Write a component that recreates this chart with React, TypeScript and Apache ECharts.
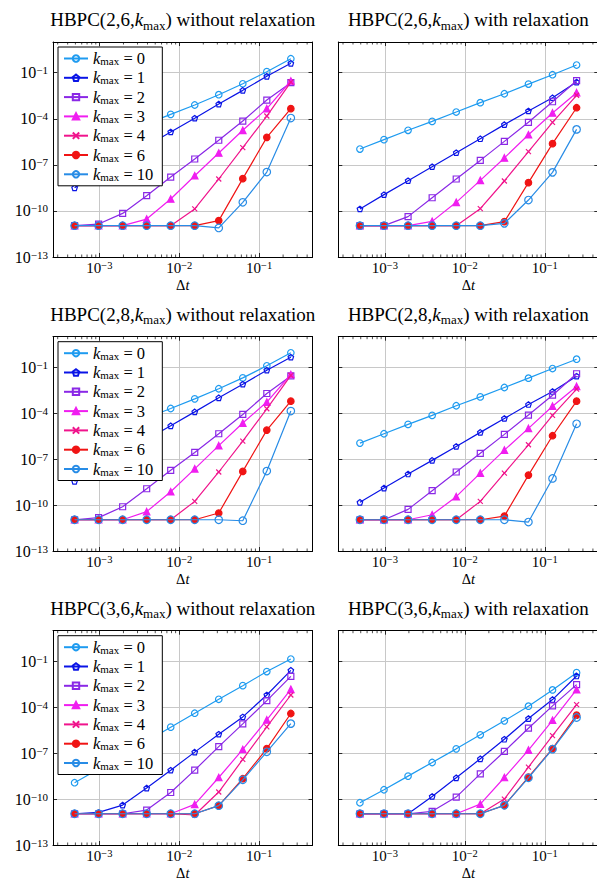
import React, { useEffect, useRef } from 'react';
import * as echarts from 'echarts';

// time steps 2^-11 ... 2^-2
const dt = [4.8828125e-4, 9.765625e-4, 1.953125e-3, 3.90625e-3, 7.8125e-3, 1.5625e-2, 3.125e-2, 6.25e-2, 0.125, 0.25];
const F = 1.1e-11;

const kLabels = ['0', '1', '2', '3', '4', '6', '10'];
const seriesNames = kLabels.map((k) => 'kmax = ' + k);

// HBPC(2,6,kmax) without relaxation
const p26n_k0 = [6.5e-7, 2.7e-6, 1.1e-5, 4.7e-5, 1.95e-4, 7.9e-4, 3.7e-3, 1.9e-2, 0.117, 0.81];
const p26n_k1 = [3.2e-9, 2.6e-8, 2.1e-7, 1.7e-6, 1.4e-5, 1.1e-4, 9.1e-4, 7.1e-3, 5.8e-2, 0.41];
const p26n_k2 = [F, 1.4e-11, 6.9e-11, 9.8e-10, 1.6e-8, 2.4e-7, 4.0e-6, 7.1e-5, 1.66e-3, 2.24e-2];
const p26n_k3 = [F, F, F, 2.95e-11, 6.0e-10, 1.95e-8, 5.9e-7, 1.78e-5, 4.57e-4, 2.88e-2];
const p26n_k4 = [F, F, F, F, F, 1.35e-10, 1.2e-8, 1.32e-6, 1.51e-4, 2.45e-2];
const p26n_k6 = [F, F, F, F, F, F, 2.34e-11, 1.26e-8, 6.17e-6, 4.57e-4];
const p26n_k10 = [F, F, F, F, F, F, 7.8e-12, 3.63e-10, 3.39e-8, 1.12e-4];

// HBPC(2,6,kmax) with relaxation
const p26r_k0 = [1.07e-6, 4.37e-6, 1.78e-5, 6.76e-5, 2.75e-4, 1.12e-3, 4.27e-3, 1.82e-2, 7.41e-2, 0.316];
const p26r_k1 = [1.35e-10, 1.15e-9, 9.33e-9, 7.59e-8, 6.17e-7, 5.01e-6, 4.17e-5, 3.24e-4, 2.34e-3, 2.45e-2];
const p26r_k2 = [F, F, 4.27e-11, 7.24e-10, 1.2e-8, 1.95e-7, 3.39e-6, 5.89e-5, 1.29e-3, 3.02e-2];
const p26r_k3 = [F, F, F, 2.09e-11, 3.63e-10, 9.77e-9, 2.82e-7, 9.12e-6, 2.4e-4, 5.01e-3];
const p26r_k4 = [F, F, F, F, F, 1.41e-10, 8.91e-9, 7.24e-7, 5.89e-5, 3.39e-3];
const p26r_k6 = [F, F, F, F, F, F, 2.0e-11, 6.92e-9, 2.4e-6, 5.25e-4];
const p26r_k10 = [F, F, F, F, F, F, 1.55e-11, 5.13e-10, 3.24e-8, 2.04e-5];

// HBPC(2,8,kmax) without relaxation
const p28n_k0 = [6.8e-7, 2.8e-6, 1.17e-5, 4.9e-5, 2.04e-4, 8.7e-4, 3.98e-3, 2.04e-2, 0.126, 0.89];
const p28n_k1 = [3.55e-9, 2.9e-8, 2.34e-7, 1.9e-6, 1.51e-5, 1.23e-4, 1.02e-3, 7.94e-3, 6.46e-2, 0.457];
const p28n_k2 = [F, 1.51e-11, 7.76e-11, 1.17e-9, 1.86e-8, 2.75e-7, 4.57e-6, 8.32e-5, 1.95e-3, 2.75e-2];
const p28n_k3 = [F, F, F, 3.72e-11, 7.41e-10, 2.34e-8, 7.59e-7, 2.29e-5, 5.37e-4, 3.39e-2];
const p28n_k4 = [F, F, F, F, F, 1.74e-10, 1.45e-8, 1.51e-6, 1.95e-4, 2.95e-2];
const p28n_k6 = [F, F, F, F, F, F, 3.02e-11, 1.58e-8, 7.94e-6, 6.17e-4];
const p28n_k10 = [F, F, F, F, F, F, F, 9.5e-12, 1.66e-8, 1.38e-4];

// HBPC(2,8,kmax) with relaxation
const p28r_k0 = [1.12e-6, 4.57e-6, 1.86e-5, 7.24e-5, 3.09e-4, 1.17e-3, 4.79e-3, 1.95e-2, 8.32e-2, 0.339];
const p28r_k1 = [1.51e-10, 1.29e-9, 1.07e-8, 8.32e-8, 6.76e-7, 5.62e-6, 4.57e-5, 3.72e-4, 2.63e-3, 2.63e-2];
const p28r_k2 = [F, F, 5.25e-11, 8.71e-10, 1.45e-8, 2.4e-7, 4.17e-6, 7.59e-5, 1.51e-3, 3.8e-2];
const p28r_k3 = [F, F, F, 2.34e-11, 3.55e-10, 1.23e-8, 3.89e-7, 1.02e-5, 2.88e-4, 5.62e-3];
const p28r_k4 = [F, F, F, F, F, 1.74e-10, 1.23e-8, 8.71e-7, 7.24e-5, 3.72e-3];
const p28r_k6 = [F, F, F, F, F, F, 1.91e-11, 9.12e-9, 3.39e-6, 6.17e-4];
const p28r_k10 = [F, F, F, F, F, F, F, 7.8e-12, 5.5e-9, 2.04e-5];

// HBPC(3,6,kmax) without relaxation
const p36n_k0 = [1.17e-9, 9.1e-9, 7.4e-8, 6.0e-7, 5.0e-6, 4.07e-5, 3.31e-4, 2.57e-3, 2.14e-2, 0.141];
const p36n_k1 = [F, 1.35e-11, 4.07e-11, 5.25e-10, 7.76e-9, 1.17e-7, 1.74e-6, 2.34e-5, 6.31e-4, 2.57e-2];
const p36n_k2 = [F, F, F, 1.91e-11, 2.69e-10, 7.76e-9, 2.69e-7, 8.13e-6, 2.69e-4, 1.05e-2];
const p36n_k3 = [F, F, F, F, F, 4.47e-11, 2.57e-9, 1.74e-7, 1.48e-5, 1.48e-3];
const p36n_k4 = [F, F, F, F, F, 9.1e-12, 2.88e-10, 3.89e-8, 5.25e-6, 6.31e-4];
const p36n_k6 = [F, F, F, F, F, F, 3.72e-11, 2.14e-9, 2.0e-7, 3.89e-5];
const p36n_k10 = [F, F, F, F, F, F, 3.72e-11, 1.82e-9, 1.23e-7, 8.51e-6];

// HBPC(3,6,kmax) with relaxation
const p36r_k0 = [5.75e-11, 4.07e-10, 3.16e-9, 2.45e-8, 1.91e-7, 1.58e-6, 1.29e-5, 1.17e-4, 1.35e-3, 1.82e-2];
const p36r_k1 = [F, F, F, 1.48e-10, 2.45e-9, 4.27e-8, 8.13e-7, 1.82e-5, 3.16e-4, 1.1e-2];
const p36r_k2 = [F, F, F, 1.58e-11, 1.35e-10, 4.47e-9, 1.29e-7, 4.27e-6, 1.23e-4, 3.02e-3];
const p36r_k3 = [F, F, F, F, F, 4.68e-11, 2.57e-9, 1.58e-7, 1.41e-5, 1.41e-3];
const p36r_k4 = [F, F, F, F, F, F, 1.0e-10, 1.23e-8, 1.41e-6, 1.48e-4];
const p36r_k6 = [F, F, F, F, F, F, 3.89e-11, 2.69e-9, 2.0e-7, 3.02e-5];
const p36r_k10 = [F, F, F, F, F, F, 3.89e-11, 2.45e-9, 1.82e-7, 2.14e-5];

const minorTicks = [
  3e-4, 4e-4, 5e-4, 6e-4, 7e-4, 8e-4, 9e-4,
  2e-3, 3e-3, 4e-3, 5e-3, 6e-3, 7e-3, 8e-3, 9e-3,
  2e-2, 3e-2, 4e-2, 5e-2, 6e-2, 7e-2, 8e-2, 9e-2,
  2e-1, 3e-1, 4e-1,
];

const panels = [
  { pre: 'HBPC(2,6,', post: ') without relaxation', data: [p26n_k0, p26n_k1, p26n_k2, p26n_k3, p26n_k4, p26n_k6, p26n_k10], legend: true },
  { pre: 'HBPC(2,6,', post: ') with relaxation', data: [p26r_k0, p26r_k1, p26r_k2, p26r_k3, p26r_k4, p26r_k6, p26r_k10], legend: false },
  { pre: 'HBPC(2,8,', post: ') without relaxation', data: [p28n_k0, p28n_k1, p28n_k2, p28n_k3, p28n_k4, p28n_k6, p28n_k10], legend: true },
  { pre: 'HBPC(2,8,', post: ') with relaxation', data: [p28r_k0, p28r_k1, p28r_k2, p28r_k3, p28r_k4, p28r_k6, p28r_k10], legend: false },
  { pre: 'HBPC(3,6,', post: ') without relaxation', data: [p36n_k0, p36n_k1, p36n_k2, p36n_k3, p36n_k4, p36n_k6, p36n_k10], legend: true },
  { pre: 'HBPC(3,6,', post: ') with relaxation', data: [p36r_k0, p36r_k1, p36r_k2, p36r_k3, p36r_k4, p36r_k6, p36r_k10], legend: false },
];

const colors = ['#1e9bf0', '#0a14e6', '#8a28e6', '#f01ef0', '#f0148c', '#f01414', '#288ce6'];
const symbols = [
  'circle',
  'path://M0,-1L0.951,-0.309L0.588,0.809L-0.588,0.809L-0.951,-0.309Z',
  'rect',
  'triangle',
  'path://M-1,-1L1,1M-1,1L1,-1',
  'circle',
  'circle',
];
const filled = [false, false, false, true, false, true, false];
const sizes = [6.5, 5.5, 6, 6.5, 5, 6.5, 7.5];

const FONT = 'Liberation Serif';
const colLeft = [53, 338.3];
const colWidth = [259.5, 260];
const rowTop = [42, 336.7, 630.7];
const rowHeight = [215, 214.3, 214.3];
const XMIN = 2.62e-4;
const XMAX = 0.467;

const yTickRich = {
  b: { fontFamily: FONT, fontSize: 16, lineHeight: 16, color: '#000' },
  s: { fontFamily: FONT, fontSize: 11, lineHeight: 6, verticalAlign: 'top', color: '#000' },
};
const xTickRich = {
  b: { fontFamily: FONT, fontSize: 15, lineHeight: 16, color: '#000' },
  s: { fontFamily: FONT, fontSize: 10.5, lineHeight: 6, verticalAlign: 'top', color: '#000' },
};

function xFmt(v: number) {
  const e = Math.log10(v);
  const r = Math.round(e);
  if (Math.abs(e - r) > 1e-6) return '';
  return `{b|10}{s|${r < 0 ? '−' : ''}${Math.abs(r)}}`;
}
function yFmt(v: number) {
  const e = Math.log10(v);
  const r = Math.round(e);
  if (Math.abs(e - r) > 1e-6 || (r + 13) % 3 !== 0) return '';
  return `{b|10}{s|${r < 0 ? '−' : ''}${Math.abs(r)}}`;
}

export default function App() {
  const ref = useRef<HTMLDivElement>(null);
  useEffect(() => {
    if (!ref.current) return;
    const chart = echarts.init(ref.current, undefined, { renderer: 'svg' });
    const grids: any[] = [];
    const xAxes: any[] = [];
    const yAxes: any[] = [];
    const series: any[] = [];
    const titles: any[] = [];
    const legends: any[] = [];
    panels.forEach((p, i) => {
      const row = Math.floor(i / 2);
      const col = i % 2;
      const left = colLeft[col];
      const top = rowTop[row];
      const width = colWidth[col];
      const height = rowHeight[row];
      grids.push({ left, top, width, height, containLabel: false, outerBoundsMode: 'none', show: false });
      const axisLine = { show: true, onZero: false, lineStyle: { color: '#000', width: 1 } };
      const tick = { show: true, inside: true, length: 4, lineStyle: { color: '#000', width: 0.8 } };
      xAxes.push({
        type: 'log', logBase: 10, gridIndex: i, min: XMIN, max: XMAX, position: 'bottom',
        axisLine, axisTick: tick,
        axisLabel: { formatter: xFmt, rich: xTickRich, margin: 3.3, showMinLabel: true, showMaxLabel: true },
        splitLine: { show: true, lineStyle: { color: '#c8c8c8', width: 1 } },
        name: '{d|Δ}{t|t}', nameLocation: 'middle', nameGap: 21.8, nameMoveOverlap: false,
        nameTextStyle: {
          fontFamily: FONT,
          rich: {
            d: { fontFamily: FONT, fontSize: 14.5, lineHeight: 12, color: '#000' },
            t: { fontFamily: FONT, fontSize: 14.5, lineHeight: 12, fontStyle: 'italic', color: '#000' },
          },
        },
      });
      xAxes.push({
        type: 'log', logBase: 10, gridIndex: i, min: XMIN, max: XMAX, position: 'top',
        axisLine, axisTick: tick, axisLabel: { show: false }, splitLine: { show: false },
      });
      yAxes.push({
        type: 'log', logBase: 10, gridIndex: i, min: 1e-13, max: 1e1, interval: 3, position: 'left',
        axisLine, axisTick: tick,
        axisLabel: { show: col === 0, formatter: yFmt, rich: yTickRich, margin: 5 },
        splitLine: { show: true, lineStyle: { color: '#c8c8c8', width: 1 } },
      });
      yAxes.push({
        type: 'log', logBase: 10, gridIndex: i, min: 1e-13, max: 1e1, interval: 3, position: 'right',
        axisLine, axisTick: tick, axisLabel: { show: false }, splitLine: { show: false },
      });
      p.data.forEach((vals, k) => {
        series.push({
          type: 'line', name: seriesNames[k], xAxisIndex: 2 * i, yAxisIndex: 2 * i,
          data: dt.map((x, j) => [x, vals[j]]),
          symbol: symbols[k], symbolSize: sizes[k], showSymbol: true,
          lineStyle: { color: colors[k], width: 1.2 },
          itemStyle: { color: filled[k] ? colors[k] : 'none', borderColor: colors[k], borderWidth: 1.2 },
          emphasis: { disabled: true }, silent: true, z: 2 + k * 0.01,
        });
      });
      series.push({
        type: 'custom', xAxisIndex: 2 * i, yAxisIndex: 2 * i, silent: true, clip: false, z: 3,
        data: minorTicks.map((v) => [v, 1e-6]),
        renderItem: (params: any, api: any) => {
          const pt = api.coord([api.value(0), api.value(1)]);
          const cs = params.coordSys;
          const x = pt[0];
          const yb = cs.y + cs.height;
          const yt = cs.y;
          return {
            type: 'group',
            children: [
              { type: 'line', shape: { x1: x, y1: yb, x2: x, y2: yb - 2.5 }, style: { stroke: '#000', lineWidth: 0.7 } },
              { type: 'line', shape: { x1: x, y1: yt, x2: x, y2: yt + 2.5 }, style: { stroke: '#000', lineWidth: 0.7 } },
            ],
          };
        },
      });
      titles.push({
        text: `{a|${p.pre}}{k|k}{s|max}{a|${p.post}}`,
        left: left + width / 2, top: top - 34.5, textAlign: 'center', padding: 0,
        textStyle: {
          fontFamily: FONT, fontWeight: 'normal', color: '#000',
          rich: {
            a: { fontFamily: FONT, fontSize: 19, lineHeight: 24, fontWeight: 'normal', color: '#000' },
            k: { fontFamily: FONT, fontSize: 19, lineHeight: 24, fontStyle: 'italic', fontWeight: 'normal', color: '#000' },
            s: { fontFamily: FONT, fontSize: 13, lineHeight: 12, verticalAlign: 'bottom', fontWeight: 'normal', color: '#000' },
          },
        },
      });
      if (p.legend) {
        legends.push({
          left: left + 5, top: top + 5, orient: 'vertical', selectedMode: false,
          itemWidth: 24, itemHeight: 8, itemGap: 2.3,
          padding: [3, 9, 3, 5], backgroundColor: '#fff', borderColor: '#000', borderWidth: 1, borderRadius: 0,
          data: seriesNames,
          formatter: (name: string) => `{k|k}{s|max}{t| = ${name.split('= ')[1]}}`,
          textStyle: {
            fontFamily: FONT, color: '#000', fontSize: 16,
            rich: {
              k: { fontFamily: FONT, fontSize: 16.5, lineHeight: 16, fontStyle: 'italic', color: '#000' },
              s: { fontFamily: FONT, fontSize: 11, lineHeight: 8, verticalAlign: 'bottom', color: '#000' },
              t: { fontFamily: FONT, fontSize: 16.5, lineHeight: 16, color: '#000' },
            },
          },
        });
      }
    });
    chart.setOption({
      animation: false,
      backgroundColor: '#fff',
      textStyle: { fontFamily: FONT },
      title: titles,
      legend: legends,
      grid: grids,
      xAxis: xAxes,
      yAxis: yAxes,
      series,
    });
    return () => chart.dispose();
  }, []);
  return <div ref={ref} style={{ position: 'absolute', left: 0, top: 0, width: 597, height: 881 }} />;
}
